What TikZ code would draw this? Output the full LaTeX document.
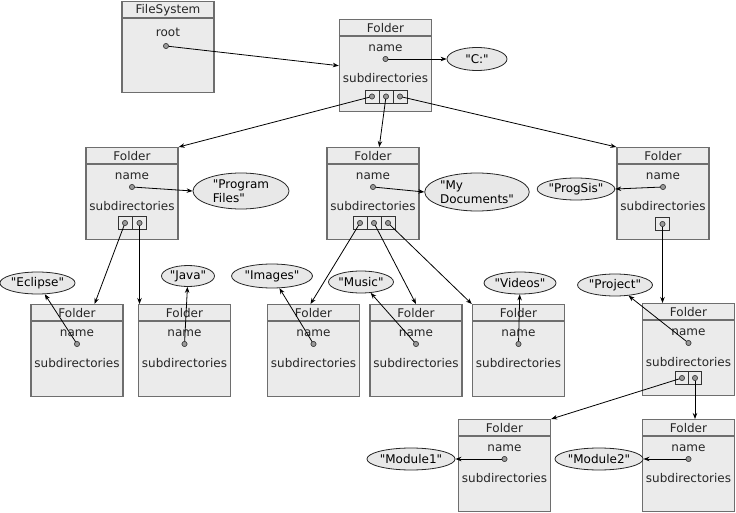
\documentclass[tikz,border=0pt]{standalone}
\usepackage{fontspec}
\setmainfont{DejaVu Sans}[Ligatures=TeXOff]
\usetikzlibrary{shapes.geometric,arrows.meta,calc}
\definecolor{boxfill}{HTML}{EBEBEB}
\definecolor{boxline}{HTML}{6E6E6E}
\definecolor{ellfill}{HTML}{E8E8E8}
\definecolor{dotfill}{HTML}{9A9A9A}
\tikzset{
  folderbox/.style={draw=boxline, fill=boxfill, line width=1.4pt, minimum width=92pt, minimum height=92pt, inner sep=0pt},
  folderline/.style={draw=boxline, line width=1.4pt},
  lbl/.style={inner sep=0pt, font=\fontsize{12}{14}\selectfont, text=black!85},
  dotc/.style={circle, draw=black!75, fill=dotfill, line width=0.6pt, minimum size=5pt, inner sep=0pt},
  slotbox/.style={draw=black!80, fill=boxfill, line width=0.8pt, minimum width=14pt, minimum height=13pt, inner sep=0pt},
  strval/.style={ellipse, draw=black!85, fill=ellfill, line width=0.8pt, inner sep=0pt, font=\fontsize{12}{14}\selectfont, align=left},
  conn/.style={draw=black, line width=0.8pt, -{Stealth[length=6pt,width=4.5pt]}},
}
\newcommand{\fsfolder}[3]{%
  \node[folderbox, anchor=north] (#1) at (#2,#3) {};
  \draw[folderline] ([yshift=-17pt]#1.north west) -- ([yshift=-17pt]#1.north east);
  \node[lbl] (#1-h) at ($(#1.north)+(0,9)$) {Folder};
  \node[lbl] (#1-n) at ($(#1.north)+(0,29)$) {name};
  \node[dotc] (#1-d) at ($(#1.north)+(0,40)$) {};
  \node[lbl] (#1-s) at ($(#1.north)+(0,59)$) {subdirectories};
}
\newcommand{\fsslot}[4][14pt]{%
  \node[slotbox, minimum width=#1] (#2-b) at (#3,#4) {};
  \node[dotc] (#2) at (#3,#4) {};
}
\begin{document}
\begin{tikzpicture}[x=1pt,y=-1pt]
\useasboundingbox (0,0) rectangle (736,513);
% FileSystem
\node[folderbox, minimum height=91pt, anchor=north] (fs) at (168,1) {};
\draw[folderline] ([yshift=-17pt]fs.north west) -- ([yshift=-17pt]fs.north east);
\node[lbl] (fs-h) at ($(fs.north)+(0,9)$) {FileSystem};
\node[lbl] (fs-r) at ($(fs.north)+(0,31)$) {root};
\node[dotc] (fs-d) at (166,46) {};
% folders
\fsfolder{f0}{385.5}{19}
\fsfolder{fA}{132}{147}
\fsfolder{fB}{373}{147}
\fsfolder{fC}{663}{147}
\fsfolder{fE}{77}{304}
\fsfolder{fJ}{184.5}{304}
\fsfolder{fI}{313.5}{304}
\fsfolder{fM}{416}{304}
\fsfolder{fV}{518.5}{304}
\fsfolder{fP}{688.5}{303}
\fsfolder{fM1}{504.5}{419}
\fsfolder{fM2}{688.5}{419}
% slots
\fsslot{s0a}{372}{96.5}
\fsslot{s0b}{386}{96.5}
\fsslot{s0c}{400}{96.5}
\fsslot{sAa}{125}{223}
\fsslot{sAb}{139.5}{223}
\fsslot{sBa}{360}{223}
\fsslot{sBb}{374}{223}
\fsslot{sBc}{388}{223}
\fsslot{sCa}{662.5}{224}
\fsslot[13pt]{sPa}{682}{378}
\fsslot[13pt]{sPb}{695}{378}
% string values
\node[strval, minimum width=60pt, minimum height=23pt] (vC) at (477,59) {"C:"};
\node[strval, minimum width=96pt, minimum height=36pt] (vPF) at (241,191) {"Program\\Files"};
\node[strval, minimum width=90pt, minimum height=38pt] (vMD) at (477,192) {"My\\Documents"};
\node[strval, minimum width=74pt, minimum height=22pt] (vPS) at (576,189) {"ProgSis"};
\node[strval, minimum width=72pt, minimum height=22pt] (vEC) at (37.5,283) {"Eclipse"};
\node[strval, minimum width=53pt, minimum height=21pt] (vJV) at (188,276) {"Java"};
\node[strval, minimum width=81pt, minimum height=24pt] (vIM) at (272,276) {"Images"};
\node[strval, minimum width=65pt, minimum height=22pt] (vMU) at (361,282) {"Music"};
\node[strval, minimum width=66pt, minimum height=22pt] (vVI) at (520,283) {"Videos"};
\node[strval, minimum width=75pt, minimum height=22pt] (vPR) at (615,285) {"Project"};
\node[strval, minimum width=79pt, minimum height=22pt] (vM1) at (411,459) {"Module1"};
\node[strval, minimum width=72pt, minimum height=22pt] (vM2) at (599,459) {"Module2"};
% connectors
\draw[conn] (fs-d.center) -- (f0.west);
\draw[conn] (f0-d.center) -- (vC.west);
\draw[conn] (s0a.center) -- (fA.north east);
\draw[conn] (s0b.center) -- (fB);
\draw[conn] (s0c.center) -- (fC.north west);
\draw[conn] (fA-d.center) -- (vPF.west);
\draw[conn] (fB-d.center) -- (vMD.west);
\draw[conn] (fC-d.center) -- (vPS.east);
\draw[conn] (sAa.center) -- (fE);
\draw[conn] (sAb.center) -- (sAb |- fJ.north);
\draw[conn] (sBa.center) -- ($(fI.north)+(-3,0)$);
\draw[conn] (sBb.center) -- (fM.north);
\draw[conn] (sBc.center) -- (fV.north west);
\draw[conn] (sCa.center) -- (sCa |- fP.north);
\draw[conn] (fE-d.center) -- (vEC);
\draw[conn] (fJ-d.center) -- (vJV);
\draw[conn] (fI-d.center) -- (vIM);
\draw[conn] (fM-d.center) -- (vMU);
\draw[conn] (fV-d.center) -- (vVI);
\draw[conn] (fP-d.center) -- (vPR);
\draw[conn] (sPa.center) -- (fM1.north east);
\draw[conn] (sPb.center) -- (sPb |- fM2.north);
\draw[conn] (fM1-d.center) -- (vM1.east);
\draw[conn] (fM2-d.center) -- (vM2.east);
% redraw dots on top of lines
\foreach \d in {fs-d,f0-d,fA-d,fB-d,fC-d,fE-d,fJ-d,fI-d,fM-d,fV-d,fP-d,fM1-d,fM2-d,s0a,s0b,s0c,sAa,sAb,sBa,sBb,sBc,sCa,sPa,sPb}
  \node[dotc] at (\d) {};
\end{tikzpicture}
\end{document}
